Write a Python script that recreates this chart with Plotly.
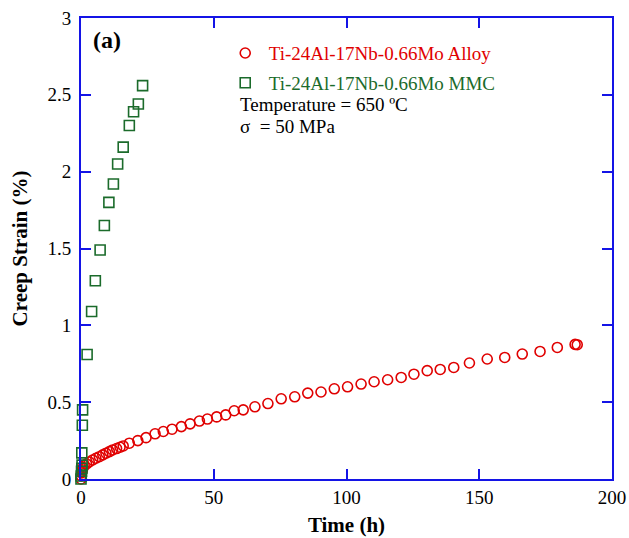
import plotly.graph_objects as go

alloy_time = [0, 0.1, 0.2, 0.3, 0.5, 0.8, 1.2, 2.1, 3.1, 4.4, 5.6, 6.9, 8.2, 9.4, 10.7, 11.9,
              13.4, 14.7, 15.9, 18.2, 21.4, 24.5, 27.9, 31.0, 34.3, 37.8, 41.1, 44.6, 47.6,
              51.1, 54.5, 57.7, 61.1, 65.5, 70.4, 75.4, 80.5, 85.4, 90.4, 95.4, 100.4, 105.5,
              110.4, 115.5, 120.6, 125.4, 130.4, 135.3, 140.4, 146.3, 153.0, 159.6, 166.2,
              172.9, 179.4, 186.1, 186.9]
alloy_strain = [0, 0.02, 0.04, 0.05, 0.06, 0.075, 0.088, 0.098, 0.111, 0.124, 0.135, 0.145,
                0.157, 0.168, 0.178, 0.189, 0.198, 0.207, 0.215, 0.233, 0.250, 0.269, 0.294,
                0.309, 0.324, 0.341, 0.359, 0.377, 0.390, 0.404, 0.417, 0.444, 0.450, 0.470,
                0.491, 0.522, 0.535, 0.559, 0.566, 0.587, 0.600, 0.618, 0.633, 0.646, 0.661,
                0.682, 0.705, 0.713, 0.726, 0.755, 0.781, 0.791, 0.813, 0.830, 0.856, 0.876,
                0.874]

mmc_time = [0, 0.1, 0.2, 0.3, 0.4, 0.3, 0.5, 0.6, 2.3, 4.0, 5.4, 7.2, 8.8, 10.5, 12.2, 13.8,
            15.9, 18.2, 19.8, 21.6, 23.2]
mmc_strain = [0, 0.02, 0.05, 0.07, 0.09, 0.17, 0.35, 0.45, 0.81, 1.09, 1.29, 1.49, 1.65,
              1.80, 1.92, 2.05, 2.16, 2.30, 2.39, 2.44, 2.56]

alloy_name = "Ti-24Al-17Nb-0.66Mo Alloy"
mmc_name = "Ti-24Al-17Nb-0.66Mo MMC"
x_ticks = [0, 50, 100, 150, 200]
y_ticks = [0, 0.5, 1, 1.5, 2, 2.5, 3]

RED = "#e00000"
GREEN = "#1b6b2b"
BLUE = "#1414e6"
FONT = "Liberation Serif"

fig = go.Figure()
fig.add_trace(go.Scatter(
    x=alloy_time, y=alloy_strain, mode="markers", cliponaxis=False,
    name=f"<span style='color:{RED}'>{alloy_name}</span>",
    marker=dict(symbol="circle-open", size=10, color=RED, line=dict(width=1.6, color=RED)),
    legendgroup="a"))
fig.add_trace(go.Scatter(
    x=mmc_time, y=mmc_strain, mode="markers", cliponaxis=False,
    name=f"<span style='color:{GREEN}'>{mmc_name}</span>",
    marker=dict(symbol="square-open", size=10, color=GREEN, line=dict(width=1.6, color=GREEN)),
    legendgroup="b"))

axis_common = dict(
    showline=True, linecolor=BLUE, linewidth=2, mirror="ticks",
    ticks="inside", ticklen=10, tickwidth=2, tickcolor=BLUE,
    showgrid=False, zeroline=False, automargin=False,
    tickfont=dict(family=FONT, size=19, color="black"),
)
fig.update_xaxes(range=[0, 200], tickvals=x_ticks,
                 title=dict(text="<b>Time (h)</b>", font=dict(family=FONT, size=21, color="black"),
                            standoff=11),
                 **axis_common)
fig.update_yaxes(range=[0, 3], tickvals=y_ticks,
                 ticktext=[f"{v:g}" for v in y_ticks],
                 ticklabelstandoff=4,
                 title=dict(text="<b>Creep Strain (%)</b>", font=dict(family=FONT, size=21, color="black"),
                            standoff=14),
                 **axis_common)

fig.add_annotation(x=0.019, y=0.952, xref="paper", yref="paper", xanchor="left", yanchor="middle",
                   text="<b>(a)</b>", showarrow=False, font=dict(family=FONT, size=24, color="black"))
fig.add_annotation(x=0.2957, y=0.8134, xref="paper", yref="paper", xanchor="left", yanchor="middle",
                   text="Temperature = 650 ºC", showarrow=False,
                   font=dict(family=FONT, size=19, color="black"))
fig.add_annotation(x=0.2957, y=0.7636, xref="paper", yref="paper", xanchor="left", yanchor="middle",
                   text="σ  = 50 MPa", showarrow=False,
                   font=dict(family=FONT, size=19, color="black"))

fig.update_layout(
    width=629, height=538,
    margin=dict(l=81, r=17, t=18, b=59),
    paper_bgcolor="white", plot_bgcolor="white",
    font=dict(family=FONT, size=19, color="black"),
    legend=dict(x=0.265, y=0.965, xanchor="left", yanchor="top",
                bgcolor="rgba(0,0,0,0)", tracegroupgap=2, itemwidth=37,
                font=dict(family=FONT, size=19)),
    showlegend=True,
)

fig.write_html("out.html")
